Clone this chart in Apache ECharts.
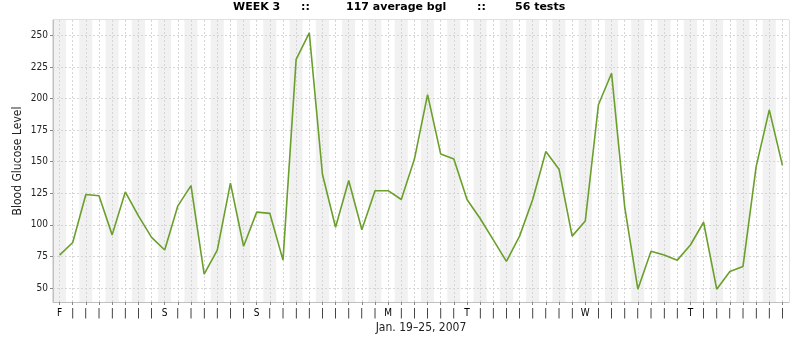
<!DOCTYPE html>
<html>
<head>
<meta charset="utf-8">
<script src="https://cdn.jsdelivr.net/npm/echarts@6.0.0/dist/echarts.min.js"></script>
<style>
  html, body { margin: 0; padding: 0; background: #fff; }
  #chart { width: 798px; height: 341px; }
</style>
</head>
<body>
<div id="chart"></div>
<script>
// Week summary
const weekNumber = 3;
const dateRange = 'Jan. 19\u201325, 2007';

// One tick label per test: day initial on the first test of each day
const tickLabels = [
  'F', '|', '|', '|', '|', '|', '|', '|',
  'S', '|', '|', '|', '|', '|', '|',
  'S', '|', '|', '|', '|', '|', '|', '|', '|', '|',
  'M', '|', '|', '|', '|', '|',
  'T', '|', '|', '|', '|', '|', '|', '|', '|',
  'W', '|', '|', '|', '|', '|', '|', '|',
  'T', '|', '|', '|', '|', '|', '|', '|'
];

// Blood glucose readings (mg/dL), in test order
const glucose = [
  76, 86, 124, 123, 92, 126, 107, 90,
  80, 115, 131, 61, 80, 133, 83,
  110, 109, 72, 231, 252, 140, 98, 135, 96, 127,
  127, 120, 152, 203, 156, 152,
  120, 105, 88, 71, 91, 120, 158, 144, 91,
  103, 195, 220, 114, 49, 79, 76, 72,
  84, 102, 49, 63, 67, 146, 191, 147
];

// Value-axis tick labels
const yTicks = [50, 75, 100, 125, 150, 175, 200, 225, 250];

const avg = Math.round(glucose.reduce((a, b) => a + b, 0) / glucose.length);
const dataMin = Math.min(...glucose);
const dataMax = Math.max(...glucose);
const pad = (dataMax - dataMin) * 0.05;

const FONT = '"DejaVu Sans Condensed", "DejaVu Sans", sans-serif';
const gridColor = '#d6d6d6';
const axisColor = '#c0c0c0';

const titleStyle = { font: 'bold 11px "DejaVu Sans", sans-serif', fill: '#000' };

const chart = echarts.init(document.getElementById('chart'), null, { renderer: 'canvas' });
chart.setOption({
  animation: false,
  backgroundColor: '#fff',
  grid: {
    left: 53, top: 20, width: 736, height: 282,
    show: true, borderColor: axisColor, borderWidth: 1, backgroundColor: 'transparent'
  },
  graphic: [
    { type: 'text', left: 233, top: 2, style: Object.assign({ text: 'WEEK ' + weekNumber }, titleStyle) },
    { type: 'text', left: 301, top: 2, style: Object.assign({ text: '::' }, titleStyle) },
    { type: 'text', left: 346, top: 2, style: Object.assign({ text: avg + ' average bgl' }, titleStyle) },
    { type: 'text', left: 477, top: 2, style: Object.assign({ text: '::' }, titleStyle) },
    { type: 'text', left: 515, top: 2, style: Object.assign({ text: glucose.length + ' tests' }, titleStyle) }
  ],
  xAxis: {
    type: 'category',
    data: tickLabels,
    boundaryGap: true,
    name: dateRange,
    nameLocation: 'middle',
    nameGap: 20,
    nameMoveOverlap: false,
    nameTextStyle: { fontFamily: FONT, fontSize: 12, color: '#222', verticalAlign: 'top' },
    axisLine: { lineStyle: { color: axisColor } },
    axisTick: { show: true, alignWithLabel: true, length: 3, lineStyle: { color: '#888' } },
    axisLabel: { interval: 0, margin: 6, fontFamily: FONT, fontSize: 10, color: '#000' },
    splitLine: { show: false },
    splitArea: { show: true, areaStyle: { color: ['#f1f1f1', '#ffffff'] } }
  },
  yAxis: {
    type: 'value',
    min: dataMin - pad,
    max: dataMax + pad,
    name: 'Blood Glucose Level',
    nameLocation: 'middle',
    nameGap: 35,
    nameMoveOverlap: false,
    nameTextStyle: { fontFamily: FONT, fontSize: 12, color: '#222', verticalAlign: 'middle' },
    axisLine: { show: true, lineStyle: { color: axisColor } },
    axisTick: { show: true, length: 3, customValues: yTicks, lineStyle: { color: '#888' } },
    axisLabel: { customValues: yTicks, margin: 5, fontFamily: FONT, fontSize: 10, color: '#222' },
    splitLine: { show: false }
  },
  series: [{
    type: 'line',
    data: glucose,
    symbol: 'none',
    z: 2,
    lineStyle: { color: '#6a9f2b', width: 1.6 },
    markLine: {
      silent: true,
      symbol: 'none',
      z: 1,
      animation: false,
      label: { show: false },
      emphasis: { disabled: true },
      lineStyle: { color: gridColor, type: [2, 2], width: 1 },
      data: yTicks.map(v => ({ yAxis: v })).concat(tickLabels.map((_, i) => ({ xAxis: i })))
    }
  }]
});
</script>
</body>
</html>
